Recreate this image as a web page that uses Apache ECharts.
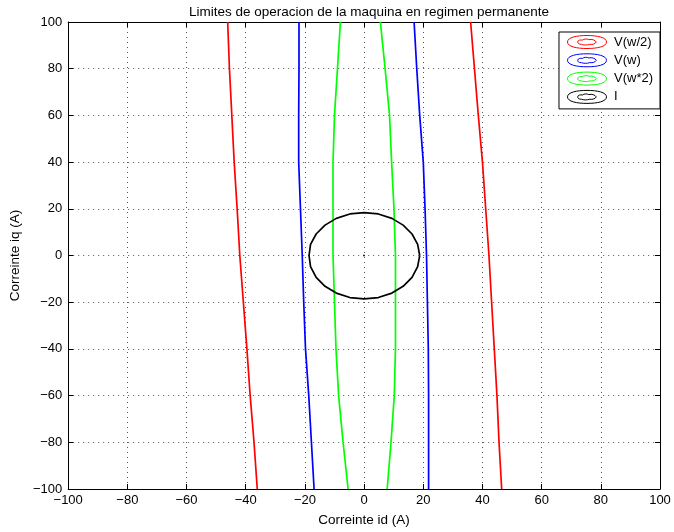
<!DOCTYPE html>
<html>
<head>
<meta charset="utf-8">
<script src="https://cdn.jsdelivr.net/npm/echarts@6/dist/echarts.min.js"></script>
<style>
  html, body { margin: 0; padding: 0; background: #fff; }
  #chart { width: 674px; height: 532px; }
</style>
</head>
<body>
<div id="chart"></div>
<script>
// iq levels at which each contour branch is sampled
const iqLevels = [100, 80, 60, 40, 20, 0, -20, -40, -60, -80, -100];

// voltage limit contours: id of the left and right branch at each iq level
const vHalfLeft    = [-46.1, -45.5, -44.7, -43.9, -42.9, -42.0, -40.8, -39.6, -38.5, -37.2, -36.1];
const vHalfRight   = [36.0, 37.3, 38.6, 40.0, 41.1, 42.2, 43.1, 44.0, 44.9, 45.6, 46.5];
const vFullLeft    = [-22.0, -22.0, -22.1, -22.1, -21.5, -20.9, -20.4, -19.8, -18.7, -17.8, -16.9];
const vFullRight   = [16.9, 17.8, 18.8, 20.0, 20.6, 21.1, 21.4, 21.7, 21.8, 21.8, 21.8];
const vDoubleLeft  = [-8.0, -9.0, -10.0, -10.5, -10.5, -10.5, -10.0, -9.5, -8.6, -7.1, -5.4];
const vDoubleRight = [5.5, 7.1, 8.6, 9.3, 10.1, 10.6, 10.6, 10.6, 10.2, 9.1, 7.8];

// current limit contour, closed loop of [id, iq]
const currentLimit = [
  [18.8, 0], [18.1, 4.8], [16.2, 9.2], [13.2, 13.0], [9.4, 15.9], [4.8, 17.8], [0, 18.4],
  [-4.8, 17.8], [-9.4, 15.9], [-13.2, 13.0], [-16.2, 9.2], [-18.1, 4.8], [-18.6, 0],
  [-18.1, -4.8], [-16.2, -9.4], [-13.2, -13.2], [-9.4, -16.1], [-4.8, -18.0], [0, -18.6],
  [4.8, -18.0], [9.4, -16.1], [13.2, -13.2], [16.2, -9.4], [18.1, -4.8], [18.8, 0]
];
const currentCentre = [[0, 0]];

const seriesNames = ['V(w/2)', 'V(w)', 'V(w*2)', 'I'];
const seriesColors = ['#ff0000', '#0000ff', '#00ff00', '#000000'];

const FONT = '"Liberation Sans", Arial, Helvetica, sans-serif';

function branch(ids) {
  return ids.map((x, i) => [x, iqLevels[i]]);
}

function fmt(v) {
  return v < 0 ? '\u2212' + Math.abs(v) : String(v);
}

function lineSeries(name, color, data) {
  return {
    name: name,
    type: 'line',
    data: data,
    showSymbol: false,
    symbol: 'none',
    smooth: false,
    silent: true,
    animation: false,
    lineStyle: { color: color, width: 1.7 },
    itemStyle: { color: color }
  };
}

// legend glyph: outer loop with an irregular inner loop
const contourIcon = 'path://M0,7 C0,2 10,0 21,0 C32,0 42,2 42,7 C42,12 32,14 21,14 C10,14 0,12 0,7 Z ' +
  'M11,7 C11,5 14,4.5 16,5 C18,3.5 21,3.5 23,4.5 C26,3.5 30,5 31,7 C30,9 27,10 24,9.5 C21,10.5 17,10.5 15,9.5 C12,9.5 11,8.5 11,7 Z';

const axisBase = {
  type: 'value', min: -100, max: 100, interval: 20,
  axisLine: { show: true, onZero: false, lineStyle: { color: '#000', width: 1 } },
  axisTick: { show: true, inside: true, length: 5, lineStyle: { color: '#000' } },
  splitLine: { show: false },
  axisLabel: { show: false }
};

const chart = echarts.init(document.getElementById('chart'), null, { renderer: 'canvas' });

chart.setOption({
  animation: false,
  backgroundColor: '#ffffff',
  textStyle: { fontFamily: FONT },
  title: {
    text: 'Limites de operacion de la maquina en regimen permanente',
    left: 364, top: 0, textAlign: 'center',
    textStyle: { fontFamily: FONT, fontSize: 13.5, fontWeight: 'normal', color: '#000' }
  },
  grid: { left: 68, right: 14, top: 22, bottom: 43, containLabel: false },
  legend: {
    data: seriesNames.map((n, i) => ({
      name: n,
      itemStyle: { color: 'rgba(0,0,0,0)', borderColor: seriesColors[i], borderWidth: 1 }
    })),
    icon: contourIcon,
    orient: 'vertical',
    right: 14, top: 32,
    itemWidth: 42, itemHeight: 13, itemGap: 4.3,
    padding: [3, 7, 5, 8],
    backgroundColor: '#ffffff',
    borderColor: '#000', borderWidth: 1, borderRadius: 0,
    selectedMode: false,
    textStyle: { fontFamily: FONT, fontSize: 13, color: '#000', padding: [0, 0, 0, 1] }
  },
  xAxis: [
    Object.assign({}, axisBase, {
      position: 'bottom',
      name: 'Correinte id (A)', nameLocation: 'middle', nameGap: 24,
      nameTextStyle: { fontFamily: FONT, fontSize: 13.5, color: '#000' },
      axisLabel: { show: true, color: '#000', fontSize: 13, fontFamily: FONT, margin: 5, formatter: fmt },
      splitLine: { show: true, lineStyle: { color: '#555', type: [1, 4], width: 1 } }
    }),
    Object.assign({}, axisBase, { position: 'top' })
  ],
  yAxis: [
    Object.assign({}, axisBase, {
      position: 'left',
      name: 'Correinte iq (A)', nameLocation: 'middle', nameGap: 46, nameRotate: 90,
      nameTextStyle: { fontFamily: FONT, fontSize: 13.5, color: '#000' },
      axisLabel: { show: true, color: '#000', fontSize: 13, fontFamily: FONT, margin: 6, formatter: fmt },
      splitLine: { show: true, lineStyle: { color: '#555', type: [1, 4], width: 1 } }
    }),
    Object.assign({}, axisBase, { position: 'right' })
  ],
  series: [
    lineSeries(seriesNames[0], seriesColors[0], branch(vHalfLeft)),
    lineSeries(seriesNames[0], seriesColors[0], branch(vHalfRight)),
    lineSeries(seriesNames[1], seriesColors[1], branch(vFullLeft)),
    lineSeries(seriesNames[1], seriesColors[1], branch(vFullRight)),
    lineSeries(seriesNames[2], seriesColors[2], branch(vDoubleLeft)),
    lineSeries(seriesNames[2], seriesColors[2], branch(vDoubleRight)),
    lineSeries(seriesNames[3], seriesColors[3], currentLimit),
    {
      name: seriesNames[3], type: 'scatter', data: currentCentre,
      symbol: 'circle', symbolSize: 2, silent: true,
      itemStyle: { color: '#000' }
    }
  ]
});
</script>
</body>
</html>
